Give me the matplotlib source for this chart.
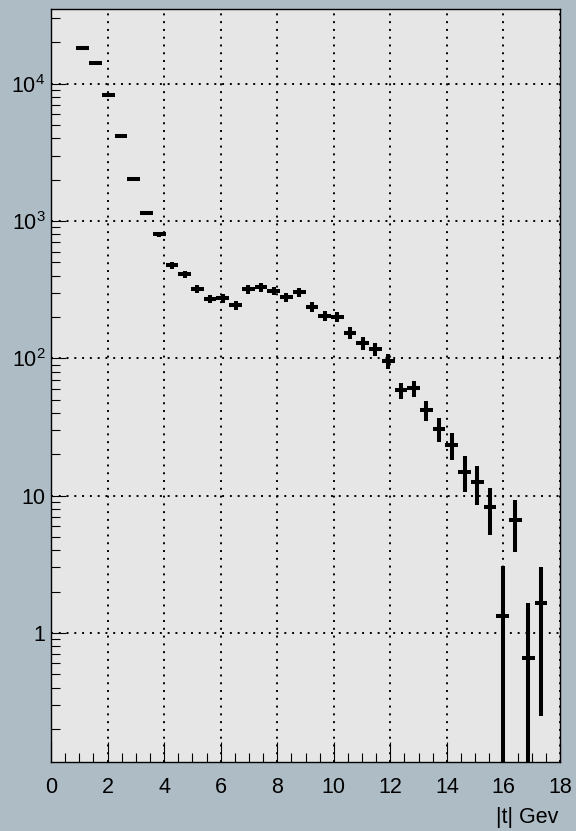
import matplotlib
matplotlib.use("Agg")
import matplotlib.pyplot as plt
from matplotlib.ticker import FixedLocator, LogLocator, NullFormatter, MultipleLocator
import numpy as np

plt.rcParams['font.family'] = ['Liberation Sans', 'DejaVu Sans']
plt.rcParams['mathtext.fontset'] = 'custom'
plt.rcParams['mathtext.rm'] = 'Liberation Sans'
plt.rcParams['mathtext.it'] = 'Liberation Sans'

# bin centers (40 bins from 0 to 18, width 0.45)
bin_centers = [1.125, 1.575, 2.025, 2.475, 2.925, 3.375, 3.825, 4.275, 4.725, 5.175,
               5.625, 6.075, 6.525, 6.975, 7.425, 7.875, 8.325, 8.775, 9.225, 9.675,
               10.125, 10.575, 11.025, 11.475, 11.925, 12.375, 12.825, 13.275, 13.725, 14.175,
               14.625, 15.075, 15.525, 15.975, 16.425, 16.875, 17.325]
counts = [18200, 14150, 8220, 4140, 2025, 1138, 804, 478, 409, 321,
          270, 273, 243, 318, 329, 311, 279, 302, 238, 204,
          200, 153, 129, 117, 96, 58.5, 60.5, 42, 30.6, 23.5,
          15.0, 12.5, 8.3, 1.32, 6.6, 0.66, 1.65]
errors = [160, 140, 107, 76, 53, 40, 33, 27, 24, 21,
          19, 19.5, 19.5, 23, 23, 22, 22, 22, 20, 18,
          17.5, 15.5, 13.7, 12.8, 11.7, 7.5, 8, 7, 6, 5.2,
          4.3, 3.9, 3.1, 1.75, 2.7, 1.0, 1.4]
bin_half_width = 0.225

x_ticks = [0, 2, 4, 6, 8, 10, 12, 14, 16, 18]
y_ticks = [1, 10, 100, 1000, 10000]
y_tick_labels = ['1', '10', r'$\mathregular{10^{2}}$', r'$\mathregular{10^{3}}$', r'$\mathregular{10^{4}}$']
x_label = '|t| Gev'

W, H = 576, 831
fig = plt.figure(figsize=(W / 100, H / 100), dpi=100)
fig.patch.set_facecolor('#aebcc6')
ax = fig.add_axes([51 / W, 1 - 762 / H, (560 - 51) / W, (762 - 9) / H])
ax.set_facecolor('#e6e6e6')

ax.set_yscale('log', nonpositive='clip')
ax.set_xlim(0, 18)
ax.set_ylim(0.115, 35000)

c = np.array(counts)
e = np.array(errors)
lo = np.where(c - e > 0, c - e, 1e-3)
ax.hlines(counts, np.array(bin_centers) - bin_half_width, np.array(bin_centers) + bin_half_width,
          color='black', linewidth=2.9, capstyle='butt', zorder=3)
ax.vlines(bin_centers, lo, c + e, color='black', linewidth=2.9, capstyle='butt', zorder=3)

ax.xaxis.set_major_locator(FixedLocator(x_ticks))
ax.xaxis.set_minor_locator(MultipleLocator(0.5))
ax.set_xticklabels([str(t) for t in x_ticks])
ax.yaxis.set_major_locator(FixedLocator(y_ticks))
ax.yaxis.set_minor_locator(LogLocator(base=10, subs=np.arange(2, 10)))
ax.yaxis.set_minor_formatter(NullFormatter())
ax.set_yticklabels(y_tick_labels)

ax.tick_params(axis='both', which='both', direction='in', top=False, right=False,
               width=0.8, color='black', labelsize=15.5)
ax.tick_params(axis='x', which='major', length=14.5, pad=11)
ax.tick_params(axis='x', which='minor', length=6.8)
ax.tick_params(axis='y', which='major', length=11, pad=4)
ax.tick_params(axis='y', which='minor', length=6.5)

ax.grid(True, which='major', color='black', linestyle=(0, (1, 3)), linewidth=1.4)
ax.set_axisbelow(True)
for s in ax.spines.values():
    s.set_linewidth(1.0)
    s.set_color('black')

fig.text(558 / W, 1 - 823 / H, x_label, ha='right', va='baseline', fontsize=15.5)

fig.savefig('out.png', dpi=100, facecolor=fig.get_facecolor())
